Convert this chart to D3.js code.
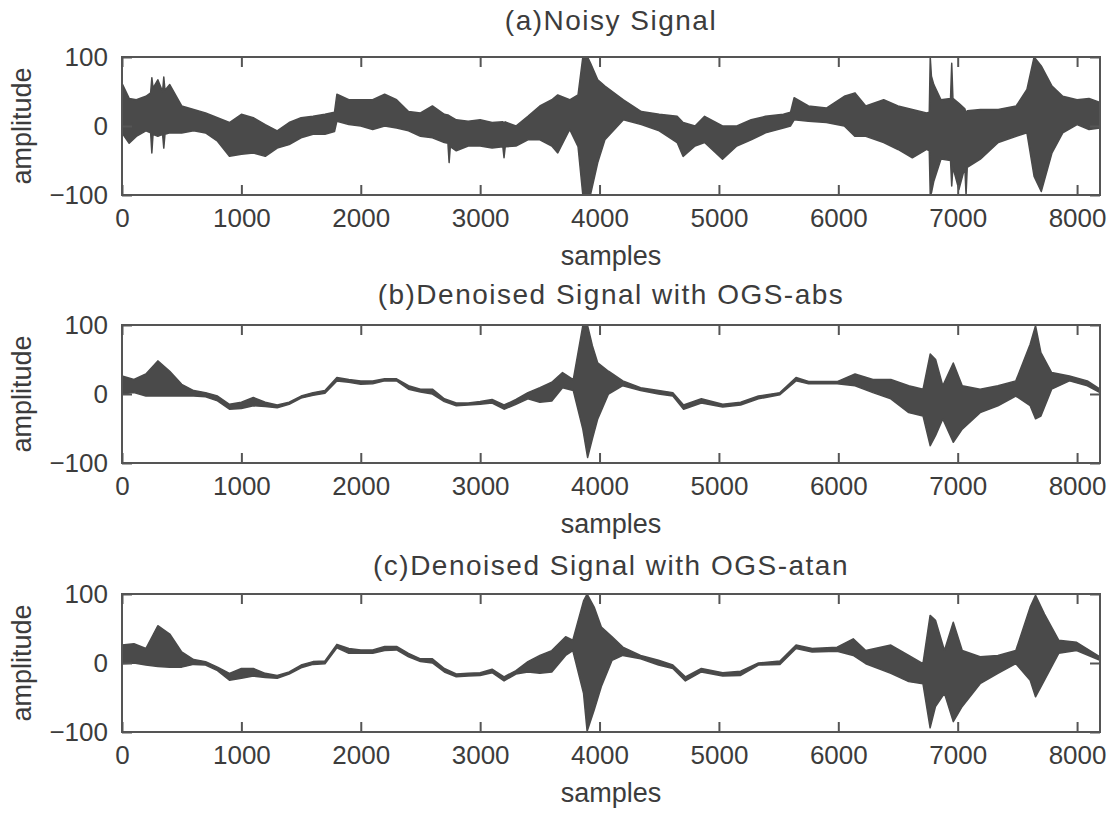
<!DOCTYPE html>
<html>
<head>
<meta charset="utf-8">
<script src="https://cdn.jsdelivr.net/npm/d3@7"></script>
<style>
    body { margin: 0; background: #fff; }
    text { font-family: "Liberation Sans", Arial, sans-serif; fill: #3c3c3c; }
</style>
</head>
<body>
<svg id="chart" width="1109" height="813"></svg>
<script>
// Envelope of each signal (upper / lower amplitude) at these sample positions

// (a) noisy signal
const noisySamples = [0, 60, 120, 200, 240, 250, 260, 300, 340, 350, 360, 400, 500, 600, 700, 800, 900, 1000, 1100, 1200, 1300, 1400, 1500, 1600, 1700, 1780, 1800, 1900, 2000, 2100, 2200, 2300, 2400, 2500, 2600, 2700, 2730, 2740, 2750, 2800, 2900, 3000, 3100, 3190, 3200, 3210, 3300, 3400, 3500, 3600, 3650, 3750, 3820, 3860, 3900, 3925, 3985, 4045, 4200, 4350, 4500, 4650, 4700, 4800, 4880, 5030, 5150, 5270, 5390, 5540, 5600, 5630, 5750, 5900, 6050, 6140, 6230, 6380, 6500, 6620, 6740, 6762, 6770, 6780, 6800, 6860, 6940, 6950, 6960, 7010, 7060, 7070, 7080, 7190, 7340, 7490, 7580, 7640, 7700, 7790, 7880, 8000, 8100, 8192];
const noisyHi = [62, 40, 38, 43, 48, 70, 55, 67, 50, 71, 52, 60, 29, 24, 19, 12, 5, 17, 12, 2, -7, 5, 12, 14, 17, 20, 46, 38, 38, 38, 46, 38, 21, 19, 29, 17, 16, 15, 14, 9, 7, 9, 5, 6, 5, 6, 0, 14, 29, 38, 45, 38, 45, 100, 100, 91, 67, 58, 38, 21, 17, 14, 5, 0, 14, 0, 0, 9, 14, 17, 20, 41, 29, 26, 43, 48, 29, 38, 29, 24, 19, 20, 100, 72, 60, 38, 40, 91, 40, 33, 25, 19, 22, 24, 24, 29, 53, 100, 87, 58, 43, 38, 40, 34];
const noisyLo = [-10, -25, -15, -7, -10, -39, -12, -15, -12, -32, -12, -10, -10, -7, -10, -22, -44, -41, -39, -44, -32, -27, -17, -12, -12, -8, 7, 2, 0, -5, 0, -3, -7, -15, -17, -24, -25, -53, -30, -36, -29, -29, -32, -30, -46, -30, -29, -20, -20, -29, -39, -5, -30, -100, -100, -99, -53, -20, 9, 2, -7, -24, -44, -29, -24, -48, -29, -20, -10, -3, 0, 9, 7, 5, 0, -15, -15, -24, -34, -46, -34, -36, -100, -97, -80, -48, -50, -87, -60, -92, -60, -100, -60, -48, -24, -15, -10, -73, -95, -39, -10, 2, -5, -3];

// (b) denoised with OGS-abs
const absSamples = [0, 100, 200, 300, 400, 500, 600, 700, 800, 900, 1000, 1100, 1200, 1300, 1400, 1500, 1600, 1700, 1800, 1900, 2000, 2100, 2200, 2300, 2400, 2500, 2600, 2700, 2800, 2900, 3000, 3100, 3200, 3300, 3400, 3500, 3600, 3690, 3780, 3860, 3900, 3940, 3985, 4075, 4195, 4344, 4494, 4614, 4704, 4853, 5032, 5182, 5331, 5511, 5646, 5751, 5990, 6140, 6290, 6440, 6590, 6710, 6770, 6815, 6875, 6963, 7038, 7188, 7337, 7487, 7607, 7652, 7697, 7787, 7936, 8086, 8192];
const absHi = [26, 21, 29, 48, 33, 14, 5, 2, -3, -15, -12, -5, -12, -16, -12, -3, 2, 5, 24, 21, 19, 19, 22, 22, 12, 7, 7, -7, -13, -13, -11, -8, -16, -8, 2, 9, 17, 31, 21, 99, 99, 70, 45, 33, 19, 9, 5, 2, -16, -7, -15, -12, -3, 2, 24, 18, 18, 29, 21, 21, 12, 7, 58, 50, 12, 45, 12, 7, 12, 19, 72, 99, 60, 31, 26, 19, 7];
const absLo = [0, 2, -3, -3, -3, -3, -3, -4, -10, -22, -21, -17, -18, -20, -15, -6, -2, 1, 19, 17, 14, 15, 19, 19, 7, 3, 0, -11, -17, -16, -15, -13, -22, -15, -7, -12, -10, 9, 5, -51, -92, -65, -36, 0, 12, 5, 0, -3, -22, -13, -19, -16, -7, -1, 19, 15, 15, 12, 2, -7, -27, -32, -75, -60, -36, -70, -51, -27, -17, -3, -17, -36, -32, 7, 19, 12, 2];

// (c) denoised with OGS-atan
const atanSamples = [0, 100, 200, 300, 400, 500, 600, 700, 800, 900, 1000, 1100, 1200, 1300, 1400, 1500, 1600, 1700, 1800, 1900, 2000, 2100, 2200, 2300, 2400, 2500, 2600, 2700, 2800, 2900, 3000, 3100, 3200, 3300, 3400, 3500, 3600, 3716, 3776, 3866, 3896, 3955, 4015, 4105, 4195, 4344, 4494, 4614, 4719, 4853, 5032, 5182, 5331, 5511, 5646, 5781, 5990, 6125, 6230, 6440, 6590, 6709, 6769, 6814, 6889, 6963, 7038, 7188, 7337, 7487, 7607, 7652, 7727, 7846, 7996, 8192];
const atanHi = [26, 28, 21, 54, 42, 16, 5, 2, -6, -15, -8, -8, -15, -18, -13, -3, 2, 3, 27, 21, 19, 19, 24, 24, 14, 6, 6, -8, -16, -15, -14, -9, -20, -11, 2, 11, 18, 38, 33, 90, 100, 81, 52, 38, 23, 11, 4, -3, -20, -8, -14, -12, 0, 3, 26, 21, 23, 35, 18, 26, 11, -1, 69, 62, 18, 59, 18, 9, 11, 18, 81, 98, 71, 33, 30, 9];
const atanLo = [-1, 0, -3, -5, -6, -6, -2, -3, -11, -25, -22, -19, -21, -22, -16, -7, -2, -1, 22, 14, 14, 14, 18, 19, 9, 2, 0, -13, -20, -19, -18, -14, -26, -16, -13, -15, -13, 11, 18, -44, -99, -68, -34, 4, 11, 6, -3, -8, -26, -13, -19, -18, -3, -2, 21, 16, 17, 11, -1, -15, -27, -30, -94, -63, -44, -85, -63, -30, -15, -1, -25, -49, -25, 14, 18, 4];

const titles = ["(a)Noisy Signal", "(b)Denoised Signal with OGS-abs", "(c)Denoised Signal with OGS-atan"];
const xTicks = [0, 1000, 2000, 3000, 4000, 5000, 6000, 7000, 8000];
const yTicks = [-100, 0, 100];

const panels = [
    { title: titles[0], s: noisySamples, hi: noisyHi, lo: noisyLo, top: 57, titleGap: 27 },
    { title: titles[1], s: absSamples, hi: absHi, lo: absLo, top: 325, titleGap: 21 },
    { title: titles[2], s: atanSamples, hi: atanHi, lo: atanLo, top: 594, titleGap: 19 }
];

const svg = d3.select("#chart");
const left = 122, right = 1100, plotH = 138;
const axisColor = "#555";
const signalColor = "#4a4a4a";

const x = d3.scaleLinear().domain([0, 8192]).range([left, right]);

panels.forEach(p => {
    const y = d3.scaleLinear().domain([-100, 100]).range([p.top + plotH, p.top]);
    const g = svg.append("g");

    // signal envelope
    const pts = p.s.map((s, i) => ({ s: s, hi: p.hi[i], lo: p.lo[i] }));
    const area = d3.area()
        .x(d => x(d.s))
        .y0(d => y(d.lo))
        .y1(d => y(d.hi));

    g.append("path")
        .datum(pts)
        .attr("d", area)
        .attr("fill", signalColor)
        .attr("stroke", signalColor)
        .attr("stroke-width", 1.5)
        .attr("stroke-linejoin", "round");

    // box
    g.append("rect")
        .attr("x", left)
        .attr("y", p.top)
        .attr("width", right - left)
        .attr("height", plotH)
        .attr("fill", "none")
        .attr("stroke", axisColor)
        .attr("stroke-width", 2);

    // bottom axis, ticks pointing in
    const bottom = g.append("g")
        .attr("transform", `translate(0, ${p.top + plotH})`)
        .call(d3.axisBottom(x).tickValues(xTicks).tickSize(-10).tickPadding(14).tickFormat(d3.format("d")));
    bottom.select(".domain").remove();
    bottom.selectAll("line").attr("stroke", axisColor).attr("stroke-width", 2);
    bottom.selectAll("text").attr("font-size", 26).attr("fill", "#3c3c3c").attr("dy", "0.71em");

    // top ticks
    const topAxis = g.append("g")
        .attr("transform", `translate(0, ${p.top})`)
        .call(d3.axisTop(x).tickValues(xTicks).tickSize(-10).tickFormat(""));
    topAxis.select(".domain").remove();
    topAxis.selectAll("line").attr("stroke", axisColor).attr("stroke-width", 2);

    // left axis labels
    const leftAxis = g.append("g")
        .attr("transform", `translate(${left}, 0)`)
        .call(d3.axisLeft(y).tickValues(yTicks).tickSize(-10).tickPadding(14).tickFormat(d3.format("d")));
    leftAxis.select(".domain").remove();
    leftAxis.selectAll("line").attr("stroke", axisColor).attr("stroke-width", 2);
    leftAxis.selectAll("text").attr("font-size", 26).attr("fill", "#3c3c3c");

    // right ticks
    const rightAxis = g.append("g")
        .attr("transform", `translate(${right}, 0)`)
        .call(d3.axisRight(y).tickValues(yTicks).tickSize(-10).tickFormat(""));
    rightAxis.select(".domain").remove();
    rightAxis.selectAll("line").attr("stroke", axisColor).attr("stroke-width", 2);

    // title
    g.append("text")
        .attr("x", (left + right) / 2)
        .attr("y", p.top - p.titleGap)
        .attr("text-anchor", "middle")
        .attr("font-size", 28)
        .attr("letter-spacing", 1.5)
        .text(p.title);

    // x label
    g.append("text")
        .attr("x", (left + right) / 2)
        .attr("y", p.top + plotH + 70)
        .attr("text-anchor", "middle")
        .attr("font-size", 27)
        .text("samples");

    // y label
    g.append("text")
        .attr("transform", `translate(31, ${p.top + plotH / 2}) rotate(-90)`)
        .attr("text-anchor", "middle")
        .attr("font-size", 27)
        .text("amplitude");
});
</script>
</body>
</html>
